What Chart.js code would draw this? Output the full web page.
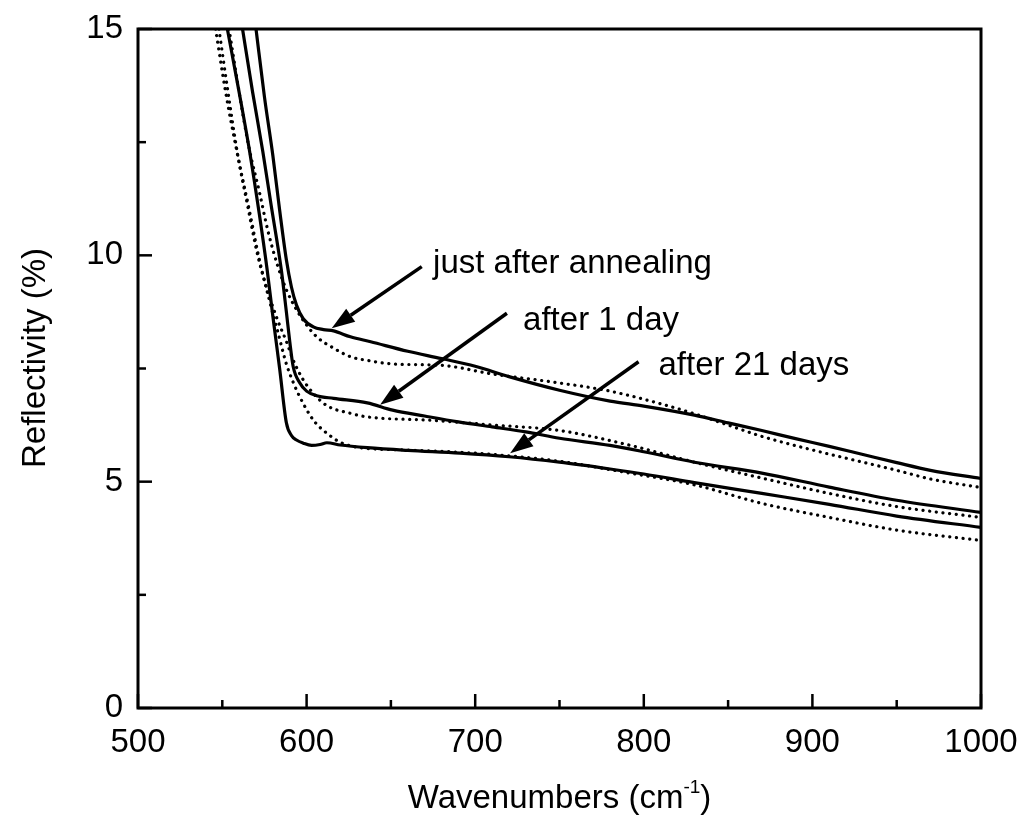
<!DOCTYPE html>
<html>
<head>
<meta charset="utf-8">
<script src="https://cdn.jsdelivr.net/npm/chart.js@4/dist/chart.umd.min.js"></script>
<style>
  html, body { margin: 0; padding: 0; background: #fff; }
  #wrap { width: 1023px; height: 821px; }
</style>
</head>
<body>
<div id="wrap"><canvas id="chart" width="1023" height="821"></canvas></div>
<script>
// Reflectivity spectra, solid = measured, dotted = fit

const annealWn = [570, 575, 580, 584, 588, 591, 594, 598, 604, 610, 616, 626, 638, 660, 680, 700, 720, 750, 780, 800, 830, 850, 870, 890, 910, 930, 950, 970, 1000];
const annealR = [15, 13.5, 12.2, 11.0, 9.9, 9.3, 8.9, 8.6, 8.42, 8.36, 8.33, 8.2, 8.09, 7.88, 7.72, 7.55, 7.32, 7.02, 6.78, 6.67, 6.47, 6.3, 6.13, 5.95, 5.78, 5.6, 5.42, 5.25, 5.07];

const annealFitWn = [554, 560, 566, 572, 577, 583, 588, 594, 600, 606, 616, 626, 636, 651, 680, 710, 750, 780, 810, 830, 850, 870, 900, 930, 950, 970, 1000];
const annealFitR = [15, 13.6, 12.35, 11.4, 10.55, 9.75, 9.24, 8.8, 8.46, 8.2, 7.95, 7.76, 7.68, 7.6, 7.57, 7.38, 7.18, 7.0, 6.72, 6.5, 6.25, 6.0, 5.7, 5.43, 5.25, 5.06, 4.87];

const oneDayWn = [562, 568, 574, 579, 585, 588, 590, 592, 596, 600, 606, 616, 636, 651, 670, 690, 710, 730, 750, 780, 800, 830, 870, 910, 950, 1000];
const oneDayR = [15, 13.6, 12.3, 11.1, 9.68, 8.75, 8.1, 7.55, 7.18, 7.0, 6.9, 6.84, 6.74, 6.58, 6.45, 6.32, 6.21, 6.1, 5.96, 5.8, 5.66, 5.43, 5.19, 4.88, 4.59, 4.32];

const oneDayFitWn = [548, 553, 559, 565, 571, 577, 583, 588, 592, 598, 604, 612, 626, 636, 672, 711, 750, 790, 830, 870, 910, 950, 1000];
const oneDayFitR = [15, 13.7, 12.25, 11.1, 10.0, 9.2, 8.55, 8.1, 7.69, 7.25, 6.95, 6.68, 6.51, 6.43, 6.36, 6.25, 6.13, 5.82, 5.43, 5.08, 4.74, 4.45, 4.21];

const twentyOneWn = [553, 560, 566.5, 572, 576.6, 580, 584, 588, 591, 594, 598, 603, 608, 612, 620, 636, 660, 691, 720, 750, 780, 800, 830, 870, 910, 950, 1000];
const twentyOneR = [15, 13.6, 12.23, 10.9, 9.68, 8.65, 7.5, 6.3, 6.02, 5.92, 5.85, 5.8, 5.82, 5.86, 5.81, 5.75, 5.69, 5.63, 5.55, 5.43, 5.28, 5.17, 4.98, 4.74, 4.5, 4.24, 3.99];

const twentyOneFitWn = [546, 552, 559, 566, 572, 578, 583, 588, 592, 596, 604, 612, 620, 630, 660, 691, 720, 750, 790, 830, 870, 910, 950, 1000];
const twentyOneFitR = [15, 13.6, 12.23, 11.0, 9.9, 9.0, 8.3, 7.6, 7.2, 6.87, 6.36, 6.07, 5.87, 5.76, 5.7, 5.65, 5.57, 5.45, 5.2, 4.93, 4.52, 4.21, 3.93, 3.7];

// annotation labels and arrows (data coordinates)
const noteText = ['just after annealing', 'after 1 day', 'after 21 days'];
const noteAt = [[675, 9.61], [728.4, 8.34], [808.7, 7.36]];
const arrowFrom = [[668.3, 9.75], [718.8, 8.72], [796.9, 7.65]];
const arrowTo = [[614.9, 8.39], [643.6, 6.70], [720.7, 5.63]];

const xTitle = 'Wavenumbers (cm';
const xTitleSup = '-1';
const yTitle = 'Reflectivity (%)';

const family = '"Liberation Sans", Arial, sans-serif';

const toPoints = (xs, ys) => xs.map((x, i) => ({ x: x, y: ys[i] }));

const solid = (xs, ys) => ({
    data: toPoints(xs, ys),
    borderColor: '#000',
    borderWidth: 3.2,
    borderCapStyle: 'round'
});
const dotted = (xs, ys) => ({
    data: toPoints(xs, ys),
    borderColor: '#000',
    borderWidth: 3.2,
    borderDash: [0.1, 6.6],
    borderCapStyle: 'round'
});

// box, inward ticks, arrows and labels
const decorations = {
    id: 'decorations',
    afterDatasetsDraw(chart) {
        const { ctx, chartArea: a, scales: { x, y } } = chart;
        ctx.save();
        ctx.strokeStyle = '#000';
        ctx.fillStyle = '#000';

        ctx.lineWidth = 2.5;
        const xt = x.ticks.map(t => t.value);
        const yt = y.ticks.map(t => t.value);
        xt.forEach((v, i) => {
            const px = x.getPixelForValue(v);
            ctx.beginPath(); ctx.moveTo(px, a.bottom); ctx.lineTo(px, a.bottom - 14); ctx.stroke();
            if (i < xt.length - 1) {
                const mx = x.getPixelForValue((v + xt[i + 1]) / 2);
                ctx.beginPath(); ctx.moveTo(mx, a.bottom); ctx.lineTo(mx, a.bottom - 8); ctx.stroke();
            }
        });
        yt.forEach((v, i) => {
            const py = y.getPixelForValue(v);
            ctx.beginPath(); ctx.moveTo(a.left, py); ctx.lineTo(a.left + 14, py); ctx.stroke();
            if (i < yt.length - 1) {
                const my = y.getPixelForValue((v + yt[i + 1]) / 2);
                ctx.beginPath(); ctx.moveTo(a.left, my); ctx.lineTo(a.left + 8, my); ctx.stroke();
            }
        });

        ctx.lineWidth = 3;
        ctx.strokeRect(a.left, a.top, a.right - a.left, a.bottom - a.top);

        // arrows
        arrowFrom.forEach((f, i) => {
            const x0 = x.getPixelForValue(f[0]), y0 = y.getPixelForValue(f[1]);
            const x1 = x.getPixelForValue(arrowTo[i][0]), y1 = y.getPixelForValue(arrowTo[i][1]);
            const ang = Math.atan2(y1 - y0, x1 - x0);
            const headLen = 23, headW = 8;
            const bx = x1 - headLen * Math.cos(ang), by = y1 - headLen * Math.sin(ang);
            ctx.lineWidth = 3.5;
            ctx.beginPath(); ctx.moveTo(x0, y0); ctx.lineTo(bx, by); ctx.stroke();
            ctx.beginPath();
            ctx.moveTo(x1, y1);
            ctx.lineTo(bx + headW * Math.sin(ang), by - headW * Math.cos(ang));
            ctx.lineTo(bx - headW * Math.sin(ang), by + headW * Math.cos(ang));
            ctx.closePath();
            ctx.fill();
        });

        // labels
        ctx.font = '33px ' + family;
        ctx.textAlign = 'left';
        ctx.textBaseline = 'alphabetic';
        noteText.forEach((t, i) => {
            ctx.fillText(t, x.getPixelForValue(noteAt[i][0]), y.getPixelForValue(noteAt[i][1]));
        });
        ctx.restore();
    },
    afterDraw(chart) {
        const { ctx, chartArea: a } = chart;
        ctx.save();
        ctx.fillStyle = '#000';

        // y title
        ctx.save();
        ctx.translate(36, 358);
        ctx.rotate(-Math.PI / 2);
        ctx.font = '33px ' + family;
        ctx.textAlign = 'center';
        ctx.textBaseline = 'middle';
        ctx.fillText(yTitle, 0, 0);
        ctx.restore();

        // x title with superscript
        const big = '33px ' + family, small = '19px ' + family;
        ctx.font = big;
        const w1 = ctx.measureText(xTitle).width;
        const w3 = ctx.measureText(')').width;
        ctx.font = small;
        const w2 = ctx.measureText(xTitleSup).width;
        let tx = (a.left + a.right) / 2 - (w1 + w2 + w3) / 2;
        const base = 808;
        ctx.textAlign = 'left';
        ctx.textBaseline = 'alphabetic';
        ctx.font = big;
        ctx.fillText(xTitle, tx, base);
        tx += w1;
        ctx.font = small;
        ctx.fillText(xTitleSup, tx, base - 15);
        tx += w2;
        ctx.font = big;
        ctx.fillText(')', tx, base);
        ctx.restore();
    }
};

new Chart(document.getElementById('chart').getContext('2d'), {
    type: 'line',
    data: {
        datasets: [
            solid(annealWn, annealR),
            dotted(annealFitWn, annealFitR),
            solid(oneDayWn, oneDayR),
            dotted(oneDayFitWn, oneDayFitR),
            solid(twentyOneWn, twentyOneR),
            dotted(twentyOneFitWn, twentyOneFitR)
        ]
    },
    options: {
        responsive: false,
        animation: false,
        layout: { padding: { left: 0, right: 42, top: 29, bottom: 0 } },
        elements: {
            point: { radius: 0 },
            line: { cubicInterpolationMode: 'monotone', fill: false }
        },
        plugins: {
            legend: { display: false },
            tooltip: { enabled: false }
        },
        scales: {
            x: {
                type: 'linear',
                min: 500,
                max: 1000,
                grid: { display: false, drawTicks: false },
                border: { display: false },
                ticks: {
                    stepSize: 100,
                    padding: 15,
                    maxRotation: 0,
                    color: '#000',
                    font: { size: 33, family: family },
                    callback: v => String(v)
                },
                afterFit: s => { s.height = 113; s.paddingLeft = 0; s.paddingRight = 0; }
            },
            y: {
                min: 0,
                max: 15,
                grid: { display: false, drawTicks: false },
                border: { display: false },
                ticks: {
                    stepSize: 5,
                    padding: 15,
                    color: '#000',
                    font: { size: 33, family: family },
                    callback: v => String(v)
                },
                afterFit: s => { s.width = 138; s.paddingTop = 0; s.paddingBottom = 0; }
            }
        }
    },
    plugins: [decorations]
});
</script>
</body>
</html>
